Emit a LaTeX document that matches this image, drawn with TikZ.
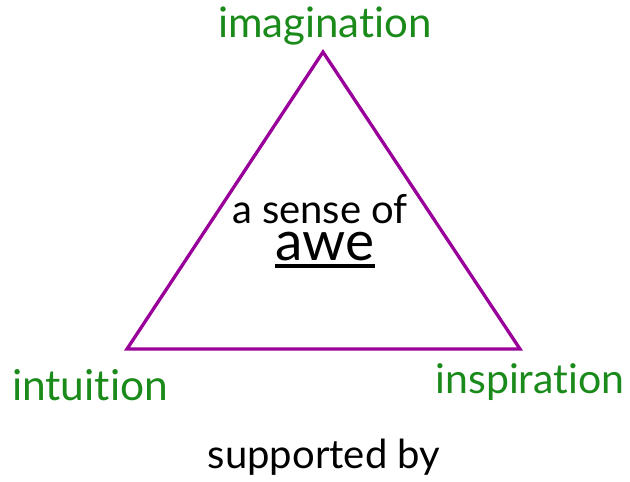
\documentclass[tikz,border=0pt]{standalone}
\usepackage{fontspec}
\setmainfont{Lato}[Ligatures={NoCommon}]
\definecolor{tripurple}{HTML}{990099}
\definecolor{labgreen}{HTML}{1A8A1A}
\begin{document}
\begin{tikzpicture}[x=1pt,y=-1pt,
  corner/.style={text=labgreen, inner sep=0pt, anchor=base},
  center/.style={text=black, inner sep=0pt, anchor=base}]
\useasboundingbox (0,0) rectangle (630,482);
\coordinate (top) at (323,52);
\coordinate (bl) at (127,349);
\coordinate (br) at (520,349);
\draw[tripurple, line width=3.3pt, line join=miter] (top) -- (br) -- (bl) -- cycle;
\node[corner, font=\fontsize{42}{48}\selectfont] (imag) at (325,37) {imagination};
\node[corner, font=\fontsize{42.5}{48}\selectfont] (intu) at (90,400) {intuition};
\node[corner, font=\fontsize{41}{48}\selectfont] (insp) at (530,393) {inspiration};
\node[center, text depth=0pt, font=\fontsize{40}{46}\selectfont] (sense) at (320,223) {a sense of};
\node[center, text height=28pt, font=\fontsize{55}{60}\selectfont] (awe) at (325,260) {awe};
\coordinate (ulA) at (275,266);
\coordinate (ulB) at (375,266);
\draw[line width=4.5pt] (ulA) -- (ulB);
\node[center, font=\fontsize{40}{46}\selectfont] (supp) at (324,468) {supported by};
\end{tikzpicture}
\end{document}
